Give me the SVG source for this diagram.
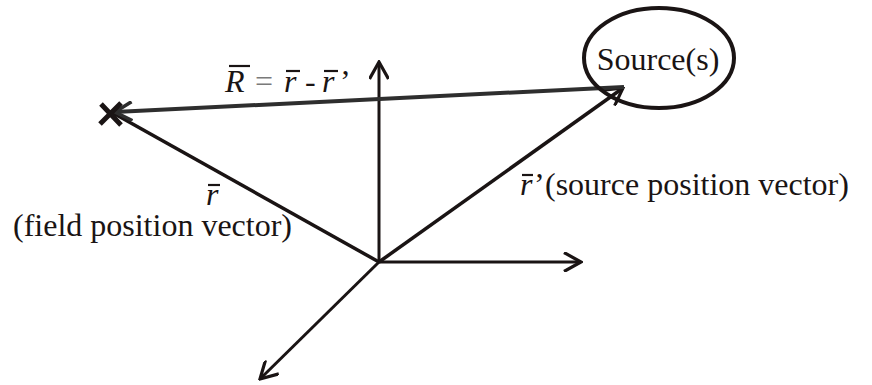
<svg xmlns="http://www.w3.org/2000/svg" width="872" height="385" viewBox="0 0 872 385">
<style>
.ax{stroke:#1a1414;stroke-width:3;fill:none;stroke-linecap:butt}
.rv{stroke:#1a1414;stroke-width:3.5;fill:none}
.Rv{stroke:#2e2e2e;stroke-width:4;fill:none}
.t{font-family:"Liberation Serif","Times New Roman",serif;font-size:32px;fill:#1a1414}
.i{font-style:italic}
.bar{stroke:#1a1414;stroke-width:2.2}
</style>
<defs>
<marker id="open" viewBox="0 0 20 20" refX="18" refY="10" markerWidth="20" markerHeight="20" orient="auto" markerUnits="userSpaceOnUse">
<path d="M1,0.5 L18,10 L1,19.5" fill="none" stroke="#1a1414" stroke-width="3.2"/>
</marker>
<marker id="openG" viewBox="0 0 20 20" refX="18" refY="10" markerWidth="20" markerHeight="20" orient="auto" markerUnits="userSpaceOnUse">
<path d="M1,0.5 L18,10 L1,19.5" fill="none" stroke="#2e2e2e" stroke-width="3.5"/>
</marker>
</defs>
<g id="connectors">
<line class="ax" x1="379" y1="262" x2="379" y2="62" marker-end="url(#open)"/>
<line class="ax" x1="379" y1="262" x2="581" y2="262" marker-end="url(#open)"/>
<line class="ax" x1="379" y1="262" x2="260" y2="379" marker-end="url(#open)"/>
<line class="rv" x1="379" y1="262" x2="113" y2="113"/>
<line class="rv" x1="379" y1="262" x2="623" y2="88" marker-end="url(#open)"/>
<line class="Rv" x1="624" y1="87" x2="115" y2="112" marker-end="url(#openG)"/>
</g>
<g id="source">
<ellipse cx="659" cy="58" rx="75" ry="50" fill="none" stroke="#1a1414" stroke-width="4"/>
<text class="t" x="658" y="70" text-anchor="middle">Source(s)</text>
</g>
<g id="field-point">
<path d="M101,104 L121,125 M100,124 L121,103" stroke="#1a1414" stroke-width="5" fill="none"/>
</g>
<g id="label-R">
<text class="t" y="92"><tspan class="i" x="225">R</tspan><tspan x="255" fill="#7a7a7a">=</tspan><tspan class="i" x="284">r</tspan><tspan x="305">-</tspan><tspan class="i" x="322">r</tspan><tspan x="340">’</tspan></text>
<line class="bar" x1="229" y1="66" x2="250" y2="66"/>
<line class="bar" x1="286" y1="71" x2="300" y2="71"/>
<line class="bar" x1="324" y1="71" x2="338" y2="71"/>
</g>
<g id="label-r">
<text class="t i" x="206" y="205">r</text>
<line class="bar" x1="208" y1="185" x2="220" y2="185"/>
<text class="t" x="292" y="236" text-anchor="end">(field position vector)</text>
</g>
<g id="label-rprime">
<text class="t" y="195"><tspan class="i" x="520">r</tspan><tspan x="534">’</tspan></text>
<line class="bar" x1="522" y1="175" x2="533" y2="175"/>
<text class="t" x="545" y="195">(source position vector)</text>
</g>
</svg>
